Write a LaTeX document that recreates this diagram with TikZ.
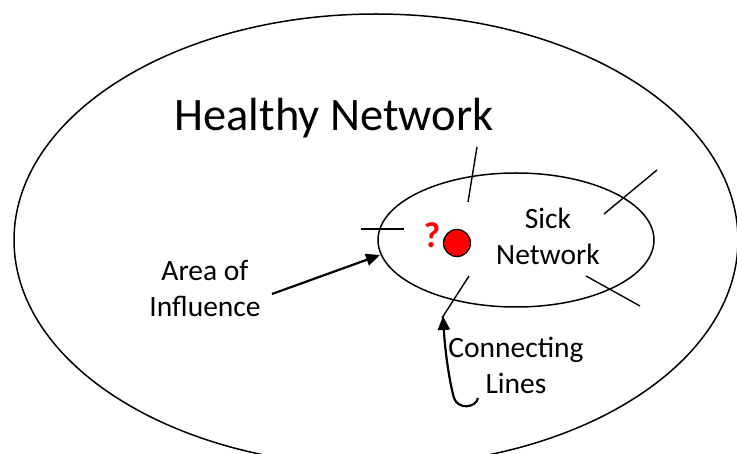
\documentclass[tikz,border=0pt]{standalone}
\usepackage{fontspec}
\setmainfont{Carlito}
\usetikzlibrary{arrows.meta}
\tikzset{
  outline/.style={draw=black, line width=1.5pt},
  tick/.style={draw=black, line width=1.4pt},
  pointer/.style={draw=black, line width=2.2pt, -{Triangle[length=14pt,width=12pt]}},
  label/.style={inner sep=0pt, align=center, font=\fontsize{29.5}{36}\selectfont},
}
\begin{document}
\begin{tikzpicture}[x=1pt,y=-1pt]
\useasboundingbox (0,0) rectangle (737,454);
% ellipses
\draw[outline] (376,240) ellipse [x radius=362, y radius=226];
\draw[outline] (516,240) ellipse [x radius=138, y radius=67];
% titles
\node[inner sep=0pt, anchor=base, font=\fontsize{46.5}{54}\selectfont] (healthy) at (334,131) {Healthy Network};
\node[label] (sick) at (548,236) {Sick\\Network};
\node[label] (area) at (205,288) {Area of\\Influence};
\node[label] (conn) at (516,365) {Connecting\\Lines};
% red dot and question mark
\node[circle, fill=red, draw=black, line width=1.3pt, minimum size=27pt, inner sep=0pt] (dot) at (457,243) {};
\node[inner sep=0pt, anchor=base, text=red, font=\fontsize{36}{40}\selectfont\bfseries] (q) at (432,248) {?};
% connecting line ticks
\coordinate (t1a) at (477,147); \coordinate (t1b) at (468,202);
\coordinate (t2a) at (361,229); \coordinate (t2b) at (404,229);
\coordinate (t3a) at (604,214); \coordinate (t3b) at (657,170);
\coordinate (t4a) at (586,276); \coordinate (t4b) at (640,306);
\coordinate (t5a) at (469,276); \coordinate (t5b) at (442,318);
\draw[tick] (t1a) -- (t1b);
\draw[tick] (t2a) -- (t2b);
\draw[tick] (t3a) -- (t3b);
\draw[tick] (t4a) -- (t4b);
\draw[tick] (t5a) -- (t5b);
% arrows
\coordinate (aoiS) at (272,294); \coordinate (aoiT) at (380,255);
\draw[pointer] (aoiS) -- (aoiT);
\coordinate (clS) at (478,398); \coordinate (clT) at (443,316);
\draw[pointer] (clS) .. controls (476,408) and (458,410) .. (454,398)
  .. controls (449,380) and (445,350) .. (clT);
\end{tikzpicture}
\end{document}
